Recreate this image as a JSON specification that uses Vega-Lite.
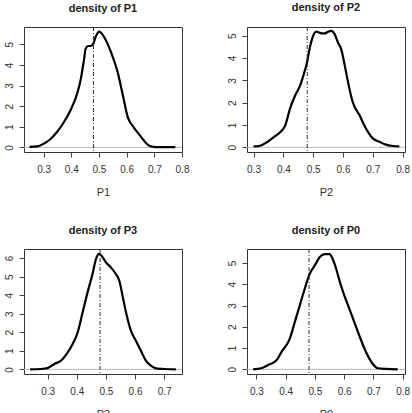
{
  "$schema": "https://vega.github.io/schema/vega-lite/v6.json",
  "padding": {"left": 3, "top": 1, "right": 5, "bottom": 5},
  "background": "white",
  "datasets": {
    "p1": [
      {"x": 0.249, "density": 0.03}, {"x": 0.276, "density": 0.05}, {"x": 0.30, "density": 0.18},
      {"x": 0.324, "density": 0.40}, {"x": 0.349, "density": 0.76}, {"x": 0.373, "density": 1.22},
      {"x": 0.398, "density": 1.83}, {"x": 0.422, "density": 2.65}, {"x": 0.434, "density": 3.30},
      {"x": 0.446, "density": 4.27}, {"x": 0.452, "density": 4.79}, {"x": 0.461, "density": 4.92},
      {"x": 0.471, "density": 4.92}, {"x": 0.480, "density": 5.05}, {"x": 0.489, "density": 5.40},
      {"x": 0.501, "density": 5.62}, {"x": 0.520, "density": 5.32}, {"x": 0.544, "density": 4.60},
      {"x": 0.568, "density": 3.62}, {"x": 0.587, "density": 2.48}, {"x": 0.605, "density": 1.43},
      {"x": 0.623, "density": 1.02}, {"x": 0.641, "density": 0.70}, {"x": 0.660, "density": 0.37},
      {"x": 0.678, "density": 0.11}, {"x": 0.696, "density": 0.03}, {"x": 0.715, "density": 0.02},
      {"x": 0.776, "density": 0.02}
    ],
    "p2": [
      {"x": 0.300, "density": 0.04}, {"x": 0.322, "density": 0.07}, {"x": 0.344, "density": 0.22},
      {"x": 0.367, "density": 0.45}, {"x": 0.389, "density": 0.67}, {"x": 0.406, "density": 0.97},
      {"x": 0.422, "density": 1.72}, {"x": 0.439, "density": 2.31}, {"x": 0.456, "density": 2.76},
      {"x": 0.467, "density": 3.21}, {"x": 0.478, "density": 3.73}, {"x": 0.489, "density": 4.48},
      {"x": 0.500, "density": 5.00}, {"x": 0.511, "density": 5.18}, {"x": 0.528, "density": 5.10},
      {"x": 0.539, "density": 5.10}, {"x": 0.550, "density": 5.18}, {"x": 0.561, "density": 5.22},
      {"x": 0.572, "density": 5.07}, {"x": 0.583, "density": 4.70}, {"x": 0.594, "density": 4.40},
      {"x": 0.606, "density": 3.66}, {"x": 0.617, "density": 2.91}, {"x": 0.633, "density": 2.01},
      {"x": 0.656, "density": 1.42}, {"x": 0.678, "density": 0.82}, {"x": 0.700, "density": 0.40},
      {"x": 0.722, "density": 0.25}, {"x": 0.744, "density": 0.12}, {"x": 0.767, "density": 0.06},
      {"x": 0.789, "density": 0.04}
    ],
    "p3": [
      {"x": 0.240, "density": 0.00}, {"x": 0.277, "density": 0.02}, {"x": 0.300, "density": 0.07},
      {"x": 0.323, "density": 0.29}, {"x": 0.346, "density": 0.47}, {"x": 0.369, "density": 0.92},
      {"x": 0.386, "density": 1.37}, {"x": 0.403, "density": 1.99}, {"x": 0.420, "density": 3.07},
      {"x": 0.437, "density": 4.15}, {"x": 0.454, "density": 5.14}, {"x": 0.466, "density": 5.95},
      {"x": 0.477, "density": 6.23}, {"x": 0.489, "density": 6.04}, {"x": 0.500, "density": 5.77},
      {"x": 0.517, "density": 5.50}, {"x": 0.534, "density": 5.14}, {"x": 0.546, "density": 4.78},
      {"x": 0.557, "density": 3.97}, {"x": 0.569, "density": 3.07}, {"x": 0.586, "density": 2.08},
      {"x": 0.603, "density": 1.54}, {"x": 0.620, "density": 1.00}, {"x": 0.637, "density": 0.47},
      {"x": 0.654, "density": 0.20}, {"x": 0.677, "density": 0.04}, {"x": 0.700, "density": 0.02},
      {"x": 0.740, "density": 0.00}
    ],
    "p0": [
      {"x": 0.289, "density": 0.00}, {"x": 0.317, "density": 0.05}, {"x": 0.340, "density": 0.20},
      {"x": 0.368, "density": 0.41}, {"x": 0.385, "density": 0.80}, {"x": 0.414, "density": 1.43},
      {"x": 0.431, "density": 2.21}, {"x": 0.448, "density": 2.99}, {"x": 0.465, "density": 3.78},
      {"x": 0.482, "density": 4.48}, {"x": 0.499, "density": 4.87}, {"x": 0.516, "density": 5.27},
      {"x": 0.533, "density": 5.42}, {"x": 0.550, "density": 5.42}, {"x": 0.561, "density": 5.19},
      {"x": 0.573, "density": 4.72}, {"x": 0.584, "density": 4.17}, {"x": 0.601, "density": 3.46},
      {"x": 0.618, "density": 2.84}, {"x": 0.635, "density": 2.21}, {"x": 0.652, "density": 1.58},
      {"x": 0.675, "density": 0.80}, {"x": 0.698, "density": 0.25}, {"x": 0.715, "density": 0.05},
      {"x": 0.743, "density": 0.02}, {"x": 0.783, "density": 0.00}
    ]
  },
  "columns": 2,
  "spacing": {"row": 97, "column": 65},
  "bounds": "flush",
  "concat": [
    {
      "title": "density of P1",
      "width": 158, "height": 125,
      "encoding": {
        "x": {"type": "quantitative", "scale": {"domain": [0.229, 0.80], "nice": false, "zero": false}, "axis": {"values": [0.3, 0.4, 0.5, 0.6, 0.7, 0.8], "title": "P1"}},
        "y": {"type": "quantitative", "scale": {"domain": [-0.22, 5.84], "nice": false, "zero": false}, "axis": {"values": [0, 1, 2, 3, 4, 5], "title": null}}
      },
      "layer": [
        {"data": {"values": [{}]}, "mark": {"type": "rule", "color": "#bbbbbb", "strokeWidth": 1}, "encoding": {"x": null, "y": {"datum": 0, "type": "quantitative", "scale": {"domain": [-0.22, 5.84], "nice": false, "zero": false}, "axis": {"values": [0, 1, 2, 3, 4, 5], "title": null}}}},
        {"data": {"name": "p1"}, "mark": {"type": "line", "color": "#000", "strokeWidth": 2.2, "interpolate": "monotone"},
         "encoding": {"x": {"field": "x"}, "y": {"field": "density"}}},
        {"data": {"values": [{}]}, "mark": {"type": "rule", "color": "#333", "strokeWidth": 1, "strokeDash": [4, 2, 1, 2]}, "encoding": {"y": null, "x": {"datum": 0.48, "type": "quantitative", "scale": {"domain": [0.229, 0.80], "nice": false, "zero": false}, "axis": {"values": [0.3, 0.4, 0.5, 0.6, 0.7, 0.8], "title": "P1"}}}}
      ]
    },
    {
      "title": "density of P2",
      "width": 158, "height": 125,
      "encoding": {
        "x": {"type": "quantitative", "scale": {"domain": [0.278, 0.808], "nice": false, "zero": false}, "axis": {"values": [0.3, 0.4, 0.5, 0.6, 0.7, 0.8], "title": "P2"}},
        "y": {"type": "quantitative", "scale": {"domain": [-0.21, 5.39], "nice": false, "zero": false}, "axis": {"values": [0, 1, 2, 3, 4, 5], "title": null}}
      },
      "layer": [
        {"data": {"values": [{}]}, "mark": {"type": "rule", "color": "#bbbbbb", "strokeWidth": 1}, "encoding": {"x": null, "y": {"datum": 0, "type": "quantitative", "scale": {"domain": [-0.21, 5.39], "nice": false, "zero": false}, "axis": {"values": [0, 1, 2, 3, 4, 5], "title": null}}}},
        {"data": {"name": "p2"}, "mark": {"type": "line", "color": "#000", "strokeWidth": 2.2, "interpolate": "monotone"},
         "encoding": {"x": {"field": "x"}, "y": {"field": "density"}}},
        {"data": {"values": [{}]}, "mark": {"type": "rule", "color": "#333", "strokeWidth": 1, "strokeDash": [4, 2, 1, 2]}, "encoding": {"y": null, "x": {"datum": 0.48, "type": "quantitative", "scale": {"domain": [0.278, 0.808], "nice": false, "zero": false}, "axis": {"values": [0.3, 0.4, 0.5, 0.6, 0.7, 0.8], "title": "P2"}}}}
      ]
    },
    {
      "title": "density of P3",
      "width": 158, "height": 125,
      "encoding": {
        "x": {"type": "quantitative", "scale": {"domain": [0.219, 0.761], "nice": false, "zero": false}, "axis": {"values": [0.3, 0.4, 0.5, 0.6, 0.7], "title": "P3"}},
        "y": {"type": "quantitative", "scale": {"domain": [-0.25, 6.49], "nice": false, "zero": false}, "axis": {"values": [0, 1, 2, 3, 4, 5, 6], "title": null}}
      },
      "layer": [
        {"data": {"values": [{}]}, "mark": {"type": "rule", "color": "#bbbbbb", "strokeWidth": 1}, "encoding": {"x": null, "y": {"datum": 0, "type": "quantitative", "scale": {"domain": [-0.25, 6.49], "nice": false, "zero": false}, "axis": {"values": [0, 1, 2, 3, 4, 5, 6], "title": null}}}},
        {"data": {"name": "p3"}, "mark": {"type": "line", "color": "#000", "strokeWidth": 2.2, "interpolate": "monotone"},
         "encoding": {"x": {"field": "x"}, "y": {"field": "density"}}},
        {"data": {"values": [{}]}, "mark": {"type": "rule", "color": "#333", "strokeWidth": 1, "strokeDash": [4, 2, 1, 2]}, "encoding": {"y": null, "x": {"datum": 0.48, "type": "quantitative", "scale": {"domain": [0.219, 0.761], "nice": false, "zero": false}, "axis": {"values": [0.3, 0.4, 0.5, 0.6, 0.7], "title": "P3"}}}}
      ]
    },
    {
      "title": "density of P0",
      "width": 158, "height": 125,
      "encoding": {
        "x": {"type": "quantitative", "scale": {"domain": [0.268, 0.808], "nice": false, "zero": false}, "axis": {"values": [0.3, 0.4, 0.5, 0.6, 0.7, 0.8], "title": "P0"}},
        "y": {"type": "quantitative", "scale": {"domain": [-0.22, 5.66], "nice": false, "zero": false}, "axis": {"values": [0, 1, 2, 3, 4, 5], "title": null}}
      },
      "layer": [
        {"data": {"values": [{}]}, "mark": {"type": "rule", "color": "#bbbbbb", "strokeWidth": 1}, "encoding": {"x": null, "y": {"datum": 0, "type": "quantitative", "scale": {"domain": [-0.22, 5.66], "nice": false, "zero": false}, "axis": {"values": [0, 1, 2, 3, 4, 5], "title": null}}}},
        {"data": {"name": "p0"}, "mark": {"type": "line", "color": "#000", "strokeWidth": 2.2, "interpolate": "monotone"},
         "encoding": {"x": {"field": "x"}, "y": {"field": "density"}}},
        {"data": {"values": [{}]}, "mark": {"type": "rule", "color": "#333", "strokeWidth": 1, "strokeDash": [4, 2, 1, 2]}, "encoding": {"y": null, "x": {"datum": 0.48, "type": "quantitative", "scale": {"domain": [0.268, 0.808], "nice": false, "zero": false}, "axis": {"values": [0.3, 0.4, 0.5, 0.6, 0.7, 0.8], "title": "P0"}}}}
      ]
    }
  ],
  "config": {
    "font": "Liberation Sans",
    "view": {"stroke": "#333", "strokeWidth": 1},
    "axis": {"grid": false, "domain": false, "tickColor": "#444", "tickSize": 5, "labelColor": "#333", "labelFontSize": 10, "titleColor": "#333", "titleFontSize": 11, "titleFontWeight": "normal", "labelFont": "Liberation Sans", "titleFont": "Liberation Sans", "labelOverlap": false, "labelBound": false, "labelFlush": false},
    "axisX": {"labelPadding": 7, "titlePadding": 12},
    "axisY": {"labelAngle": -90, "labelAlign": "center", "labelBaseline": "bottom", "labelPadding": 5},
    "title": {"fontSize": 11, "fontWeight": "bold", "color": "#222", "offset": 13, "font": "Liberation Sans"}
  }
}
